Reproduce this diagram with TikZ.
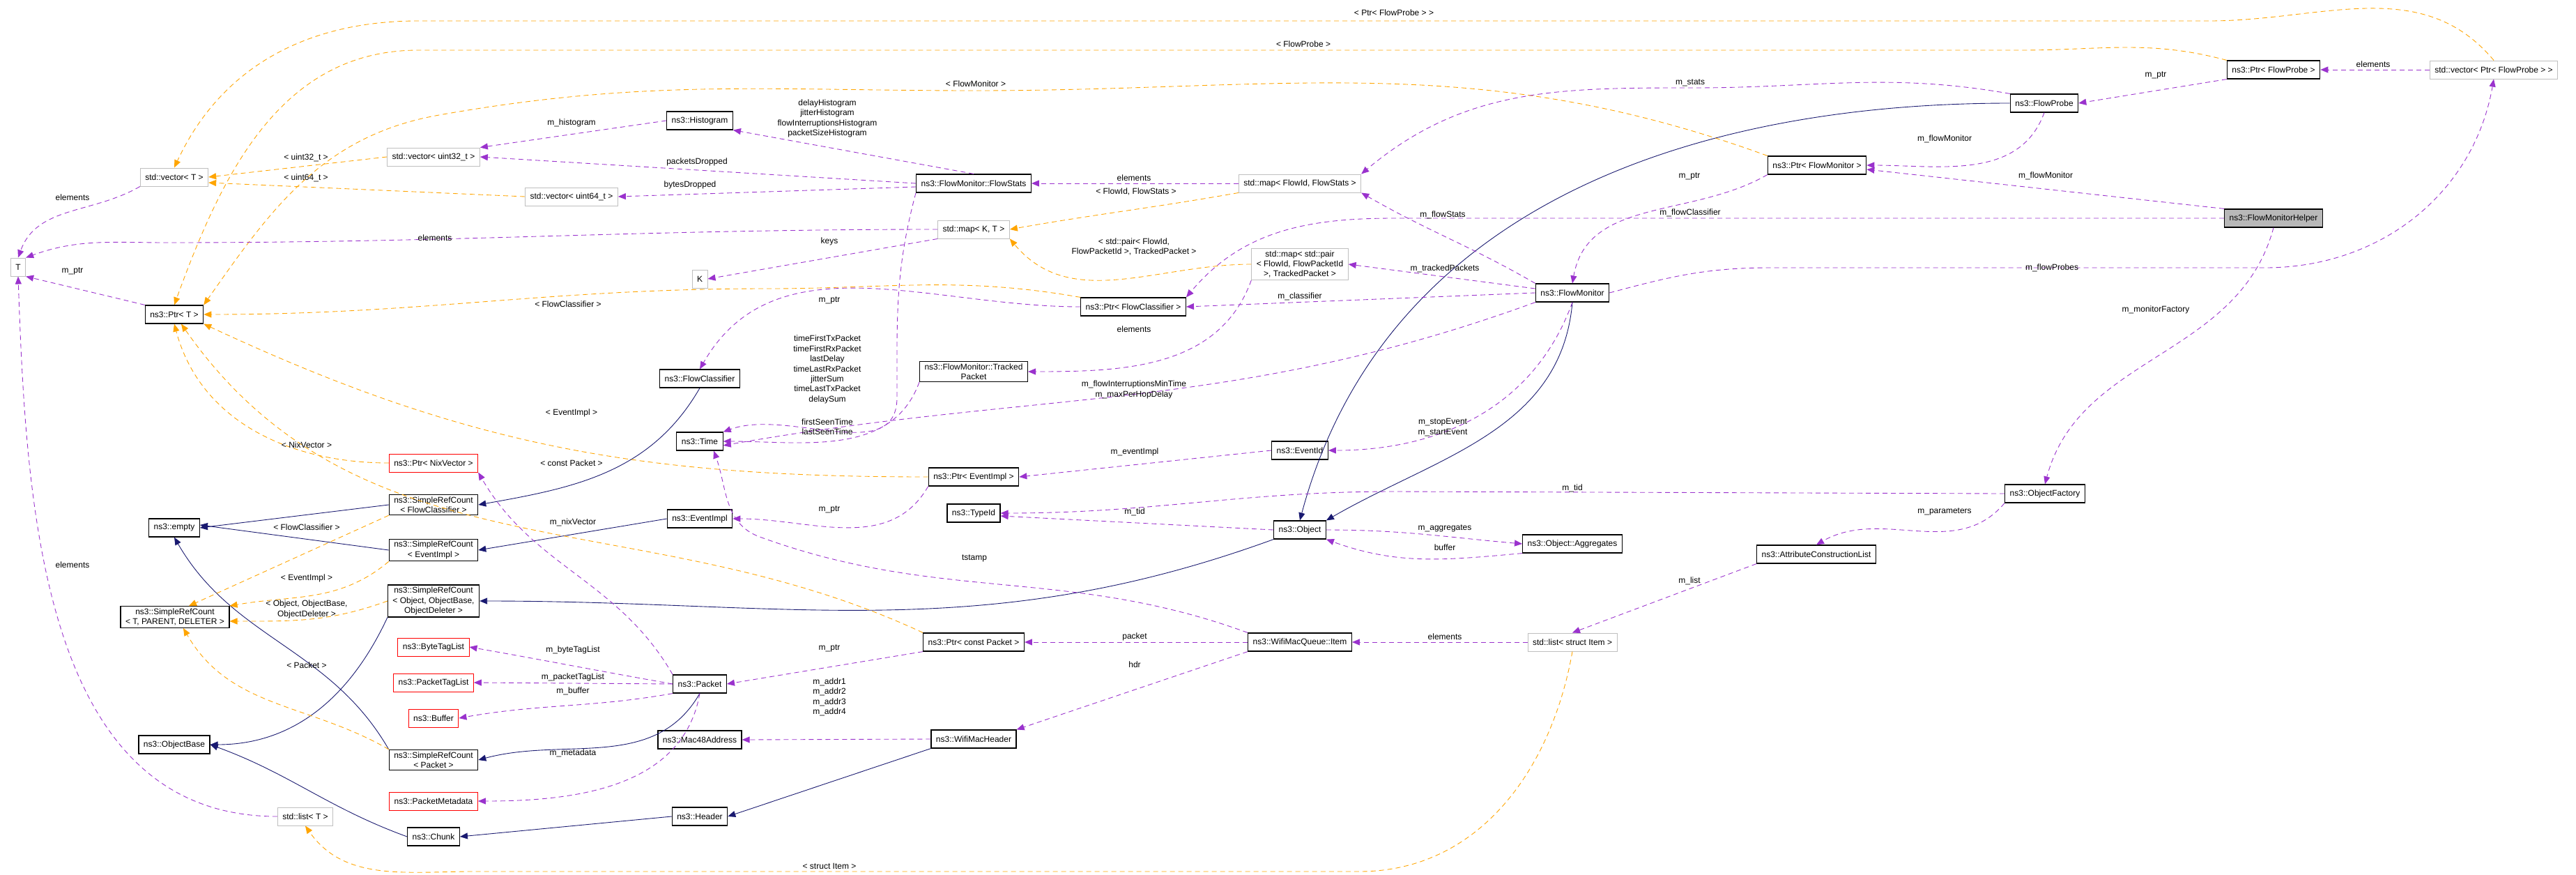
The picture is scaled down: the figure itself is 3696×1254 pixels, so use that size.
\documentclass[tikz,border=0pt]{standalone}
\usepackage{fontspec}
\setsansfont{Liberation Sans}
\usetikzlibrary{arrows.meta}
\definecolor{inhcol}{RGB}{25,25,112}
\definecolor{usecol}{RGB}{154,50,205}
\definecolor{tplcol}{RGB}{255,165,0}
\definecolor{extcol}{RGB}{191,191,191}
\begin{document}
\begin{tikzpicture}[
        x=0.25pt, y=-0.25pt,
        every node/.style={font=\sffamily\fontsize{3}{3.6}\selectfont, inner sep=0pt},
        cls/.style={draw=black, line width=0.3pt, fill=white, minimum height=6.5pt, inner xsep=1.75pt, inner ysep=0.75pt, align=center},
        ext/.style={cls, draw=extcol, line width=0.25pt},
        bad/.style={cls, draw=red, line width=0.25pt},
        hlp/.style={cls, fill=black!28},
        lbl/.style={align=center},
        inh/.style={-{Triangle[length=2.75pt,width=2.25pt]}, draw=inhcol, line width=0.22pt},
        use/.style={-{Triangle[length=2.75pt,width=2.25pt]}, draw=usecol, line width=0.22pt, dash pattern=on 1.75pt off 1.25pt},
        tpl/.style={use, draw=tplcol}
    ]
        \useasboundingbox[fill=white] (0,0) rectangle (3696,1254);

        % classes
        \node[ext] (T) at (26,383) {T};
        \node[ext] (vecT) at (250,254) {std::vector< T >};
        \node[cls] (ptrT) at (250,451) {ns3::Ptr< T >};
        \node[cls] (empty) at (250,757) {ns3::empty};
        \node[cls] (srcT) at (251,885) {ns3::SimpleRefCount\\< T, PARENT, DELETER >};
        \node[cls] (objBase) at (250,1068) {ns3::ObjectBase};
        \node[ext] (listT) at (438,1171) {std::list< T >};
        \node[ext] (vecU32) at (622,225) {std::vector< uint32\_t >};
        \node[ext] (vecU64) at (820,282) {std::vector< uint64\_t >};
        \node[bad] (ptrNix) at (622,664) {ns3::Ptr< NixVector >};
        \node[cls] (srcFC) at (622,724) {ns3::SimpleRefCount\\< FlowClassifier >};
        \node[cls] (srcEI) at (622,789) {ns3::SimpleRefCount\\< EventImpl >};
        \node[cls] (srcObj) at (622,862) {ns3::SimpleRefCount\\< Object, ObjectBase,\\ObjectDeleter >};
        \node[bad] (byteTag) at (622,928) {ns3::ByteTagList};
        \node[bad] (pktTag) at (622,979) {ns3::PacketTagList};
        \node[bad] (buffer) at (622,1030) {ns3::Buffer};
        \node[cls] (srcPkt) at (622,1090) {ns3::SimpleRefCount\\< Packet >};
        \node[bad] (pktMeta) at (622,1149) {ns3::PacketMetadata};
        \node[cls] (chunk) at (622,1200) {ns3::Chunk};
        \node[cls] (histo) at (1004,173) {ns3::Histogram};
        \node[ext] (K) at (1004,400) {K};
        \node[cls] (flowCls) at (1004,543) {ns3::FlowClassifier};
        \node[cls] (time) at (1004,633) {ns3::Time};
        \node[cls] (eventImpl) at (1004,744) {ns3::EventImpl};
        \node[cls] (packet) at (1004,981) {ns3::Packet};
        \node[cls] (mac48) at (1004,1061) {ns3::Mac48Address};
        \node[cls] (header) at (1004,1171) {ns3::Header};
        \node[cls] (flowStats) at (1397,263) {ns3::FlowMonitor::FlowStats};
        \node[ext] (mapKT) at (1397,329) {std::map< K, T >};
        \node[cls] (tracked) at (1397,533) {ns3::FlowMonitor::Tracked\\Packet};
        \node[cls] (ptrEI) at (1397,684) {ns3::Ptr< EventImpl >};
        \node[cls] (typeId) at (1397,736) {ns3::TypeId};
        \node[cls] (ptrPkt) at (1397,921) {ns3::Ptr< const Packet >};
        \node[cls] (wifiHdr) at (1397,1060) {ns3::WifiMacHeader};
        \node[cls] (ptrFC) at (1626,440) {ns3::Ptr< FlowClassifier >};
        \node[ext] (mapFS) at (1865,263) {std::map< FlowId, FlowStats >};
        \node[ext] (mapTP) at (1865,379) {std::map< std::pair\\< FlowId, FlowPacketId\\>, TrackedPacket >};
        \node[cls] (eventId) at (1865,646) {ns3::EventId};
        \node[cls] (object) at (1865,760) {ns3::Object};
        \node[cls] (item) at (1865,921) {ns3::WifiMacQueue::Item};
        \node[cls] (flowMon) at (2256,420) {ns3::FlowMonitor};
        \node[cls] (aggr) at (2256,780) {ns3::Object::Aggregates};
        \node[ext] (listItem) at (2256,921) {std::list< struct Item >};
        \node[cls] (ptrFM) at (2607,237) {ns3::Ptr< FlowMonitor >};
        \node[cls] (attrList) at (2606,795) {ns3::AttributeConstructionList};
        \node[cls] (flowProbe) at (2933,148) {ns3::FlowProbe};
        \node[cls] (objFact) at (2934,708) {ns3::ObjectFactory};
        \node[cls] (ptrFP) at (3262,100) {ns3::Ptr< FlowProbe >};
        \node[hlp] (helper) at (3262,313) {ns3::FlowMonitorHelper};
        \node[ext] (vecPFP) at (3578,100) {std::vector< Ptr< FlowProbe > >};

        % inheritance
        \draw[inh] (srcFC.west) -- (empty.east);
        \draw[inh] (srcEI.west) -- ([yshift=1pt]empty.east);
        \draw[inh] (srcPkt.north west) to[out=120,in=-60] (empty.south);
        \draw[inh] (flowCls.south) to[out=-120,in=10] (srcFC.east);
        \draw[inh] (eventImpl.west) -- (srcEI.east);
        \draw[inh] (object.south west) to[out=200,in=0] (srcObj.east);
        \draw[inh] (srcObj.south west) to[out=-115,in=0] (objBase.east);
        \draw[inh] (chunk.west) to[out=160,in=-20] (objBase.east);
        \draw[inh] (header.west) -- (chunk.east);
        \draw[inh] (wifiHdr.south west) -- (header.east);
        \draw[inh] (packet.south) to[out=-120,in=15] (srcPkt.east);
        \draw[inh] (flowProbe.west) to[out=180,in=75] (object.north);
        \draw[inh] (flowMon.south) to[out=-95,in=30] (object.north east);

        % templates
        \draw[tpl] (vecPFP.north) to[out=130,in=0] (3170,30) -- (600,30) to[out=180,in=65] (vecT.north);
        \draw[tpl] (ptrFP.north west) to[out=165,in=0] (2900,72) -- (600,72) to[out=180,in=70] (ptrT.north);
        \draw[tpl] (ptrFM.north west) to[out=160,in=0] (1400,130) to[out=180,in=10] (630,165) to[out=190,in=55] (ptrT.north east);
        \draw[tpl] (vecU32.west) -- (vecT.east);
        \draw[tpl] (vecU64.west) -- ([yshift=-2pt]vecT.east);
        \draw[tpl] (ptrFC.north west) to[out=170,in=0] (1100,414) to[out=180,in=0] (ptrT.east);
        \draw[tpl] (ptrEI.west) to[out=180,in=-25] (ptrT.south east);
        \draw[tpl] (ptrNix.west) to[out=180,in=-75] (ptrT.south);
        \draw[tpl] (ptrPkt.north west) to[out=155,in=-55] ([xshift=2.5pt]ptrT.south);
        \draw[tpl] (mapFS.south west) to[out=190,in=10] (mapKT.east);
        \draw[tpl] (mapTP.west) to[out=180,in=-50] (mapKT.south east);
        \draw[tpl] (srcFC.south west) -- ([xshift=5pt]srcT.north);
        \draw[tpl] (srcEI.south west) to[out=-140,in=10] (srcT.north east);
        \draw[tpl] (srcObj.west) to[out=-160,in=0] ([yshift=-1.5pt]srcT.east);
        \draw[tpl] (srcPkt.north west) to[out=150,in=-60] ([xshift=3pt]srcT.south);
        \draw[tpl] (listItem.south) to[out=-100,in=0] (1950,1250) -- (680,1250) to[out=180,in=-55] (listT.south);

        % usage
        \draw[use] (vecT.south west) to[out=210,in=70] (T.north);
        \draw[use] (ptrT.north west) -- (T.south east);
        \draw[use] (listT.west) to[out=180,in=-88] (T.south);
        \draw[use] (mapKT.west) to[out=180,in=0] (240,348) to[out=180,in=20] (T.north east);
        \draw[use] (mapKT.south west) -- (K.east);
        \draw[use] (histo.west) -- (vecU32.north east);
        \draw[use] (flowStats.west) -- (vecU32.east);
        \draw[use] ([yshift=-1.25pt]flowStats.west) -- (vecU64.east);
        \draw[use] (flowStats.north) -- (histo.south east);
        \draw[use] (flowStats.south west) to[out=-105,in=90] (1287,570) to[out=-90,in=20] (time.north east);
        \draw[use] (tracked.south west) to[out=-110,in=0] (time.east);
        \draw[use] (mapFS.west) -- (flowStats.east);
        \draw[use] (mapTP.south west) to[out=-110,in=0] (tracked.east);
        \draw[use] (ptrFC.west) to[out=180,in=60] (flowCls.north);
        \draw[use] (flowMon.west) -- (ptrFC.east);
        \draw[use] (flowMon.north west) to[out=150,in=-30] (mapFS.south east);
        \draw[use] ([yshift=1.5pt]flowMon.west) -- (mapTP.east);
        \draw[use] (flowMon.south west) to[out=-160,in=10] ([yshift=-1.5pt]time.east);
        \draw[use] (flowMon.south) to[out=-110,in=0] (eventId.east);
        \draw[use] (flowProbe.north west) to[out=170,in=0] (2430,126) to[out=180,in=40] (mapFS.north east);
        \draw[use] (flowProbe.south) to[out=-110,in=0] (ptrFM.east);
        \draw[use] (ptrFM.south west) to[out=-150,in=80] (flowMon.north);
        \draw[use] (ptrFP.south west) -- (flowProbe.east);
        \draw[use] (vecPFP.west) -- (ptrFP.east);
        \draw[use] (helper.north west) -- ([yshift=-1.5pt]ptrFM.east);
        \draw[use] (helper.west) -- (2000,313) to[out=180,in=50] (ptrFC.north east);
        \draw[use] (helper.south) to[out=-105,in=75] (objFact.north);
        \draw[use] (flowMon.east) to[out=15,in=180] (2540,384) -- (3250,384) to[out=0,in=-100] (vecPFP.south);
        \draw[use] (eventId.west) -- (ptrEI.east);
        \draw[use] (ptrEI.south west) to[out=-120,in=0] (eventImpl.east);
        \draw[use] (object.west) -- ([yshift=-1pt]typeId.east);
        \draw[use] (objFact.west) -- (2000,705) to[out=180,in=0] (typeId.east);
        \draw[use] (object.east) to[out=0,in=175] (aggr.west);
        \draw[use] (aggr.south west) to[out=185,in=-20] (object.south east);
        \draw[use] (objFact.south west) to[out=-130,in=30] (attrList.north);
        \draw[use] (attrList.south west) -- (listItem.north);
        \draw[use] (listItem.west) -- (item.east);
        \draw[use] (item.west) -- (ptrPkt.east);
        \draw[use] (item.north west) to[out=160,in=-20] (1090,770) to[out=160,in=-70] ([xshift=5pt]time.south);
        \draw[use] (item.south west) -- (wifiHdr.north east);
        \draw[use] (ptrPkt.south west) -- (packet.east);
        \draw[use] (packet.north west) to[out=120,in=-60] (ptrNix.south east);
        \draw[use] (packet.west) to[out=170,in=-10] (byteTag.east);
        \draw[use] (packet.west) -- (pktTag.east);
        \draw[use] (packet.south west) to[out=190,in=10] (buffer.east);
        \draw[use] (packet.south) to[out=-100,in=0] (pktMeta.east);
        \draw[use] (wifiHdr.west) -- (mac48.east);

        % labels
        \node[lbl] (l1) at (2000,18) {< Ptr< FlowProbe > >};
        \node[lbl] (l2) at (1870,63) {< FlowProbe >};
        \node[lbl] (l3) at (1400,120) {< FlowMonitor >};
        \node[lbl] (l4) at (439,226) {< uint32\_t >};
        \node[lbl] (l5) at (439,255) {< uint64\_t >};
        \node[lbl] (l6) at (815,436) {< FlowClassifier >};
        \node[lbl] (l7) at (820,592) {< EventImpl >};
        \node[lbl] (l8) at (440,638) {< NixVector >};
        \node[lbl] (l9) at (820,664) {< const Packet >};
        \node[lbl] (l10) at (1630,275) {< FlowId, FlowStats >};
        \node[lbl] (l11) at (1627,354) {< std::pair< FlowId,\\FlowPacketId >, TrackedPacket >};
        \node[lbl] (l12) at (440,756) {< FlowClassifier >};
        \node[lbl] (l13) at (440,829) {< EventImpl >};
        \node[lbl] (l14) at (440,874) {< Object, ObjectBase,\\ObjectDeleter >};
        \node[lbl] (l15) at (440,954) {< Packet >};
        \node[lbl] (l16) at (1190,1242) {< struct Item >};
        \node[lbl] (l17) at (104,283) {elements};
        \node[lbl] (l18) at (104,389) {m\_ptr};
        \node[lbl] (l19) at (104,810) {elements};
        \node[lbl] (l20) at (624,341) {elements};
        \node[lbl] (l21) at (1190,346) {keys};
        \node[lbl] (l22) at (820,176) {m\_histogram};
        \node[lbl] (l23) at (1000,232) {packetsDropped};
        \node[lbl] (l24) at (990,265) {bytesDropped};
        \node[lbl] (l25) at (1187,170) {delayHistogram\\jitterHistogram\\flowInterruptionsHistogram\\packetSizeHistogram};
        \node[lbl] (l26) at (1187,530) {timeFirstTxPacket\\timeFirstRxPacket\\lastDelay\\timeLastRxPacket\\jitterSum\\timeLastTxPacket\\delaySum};
        \node[lbl] (l27) at (1187,612) {firstSeenTime\\lastSeenTime};
        \node[lbl] (l28) at (1627,255) {elements};
        \node[lbl] (l29) at (1627,472) {elements};
        \node[lbl] (l30) at (1190,431) {m\_ptr};
        \node[lbl] (l31) at (1865,425) {m\_classifier};
        \node[lbl] (l32) at (2070,308) {m\_flowStats};
        \node[lbl] (l33) at (2073,385) {m\_trackedPackets};
        \node[lbl] (l34) at (1627,559) {m\_flowInterruptionsMinTime\\m\_maxPerHopDelay};
        \node[lbl] (l35) at (2070,613) {m\_stopEvent\\m\_startEvent};
        \node[lbl] (l36) at (2425,119) {m\_stats};
        \node[lbl] (l37) at (2790,199) {m\_flowMonitor};
        \node[lbl] (l38) at (2424,253) {m\_ptr};
        \node[lbl] (l39) at (3093,108) {m\_ptr};
        \node[lbl] (l40) at (3405,92) {elements};
        \node[lbl] (l41) at (2935,252) {m\_flowMonitor};
        \node[lbl] (l42) at (2425,305) {m\_flowClassifier};
        \node[lbl] (l43) at (2944,384) {m\_flowProbes};
        \node[lbl] (l44) at (3093,444) {m\_monitorFactory};
        \node[lbl] (l45) at (1628,648) {m\_eventImpl};
        \node[lbl] (l46) at (1190,731) {m\_ptr};
        \node[lbl] (l47) at (1628,734) {m\_tid};
        \node[lbl] (l48) at (2256,700) {m\_tid};
        \node[lbl] (l49) at (2073,758) {m\_aggregates};
        \node[lbl] (l50) at (2073,785) {buffer};
        \node[lbl] (l51) at (2790,734) {m\_parameters};
        \node[lbl] (l52) at (2424,833) {m\_list};
        \node[lbl] (l53) at (2073,913) {elements};
        \node[lbl] (l54) at (1628,913) {packet};
        \node[lbl] (l55) at (1398,801) {tstamp};
        \node[lbl] (l56) at (1628,953) {hdr};
        \node[lbl] (l57) at (1190,930) {m\_ptr};
        \node[lbl] (l58) at (822,932) {m\_byteTagList};
        \node[lbl] (l59) at (822,971) {m\_packetTagList};
        \node[lbl] (l60) at (822,991) {m\_buffer};
        \node[lbl] (l61) at (822,1080) {m\_metadata};
        \node[lbl] (l62) at (822,749) {m\_nixVector};
        \node[lbl] (l63) at (1190,1000) {m\_addr1\\m\_addr2\\m\_addr3\\m\_addr4};
    \end{tikzpicture}
\end{document}
